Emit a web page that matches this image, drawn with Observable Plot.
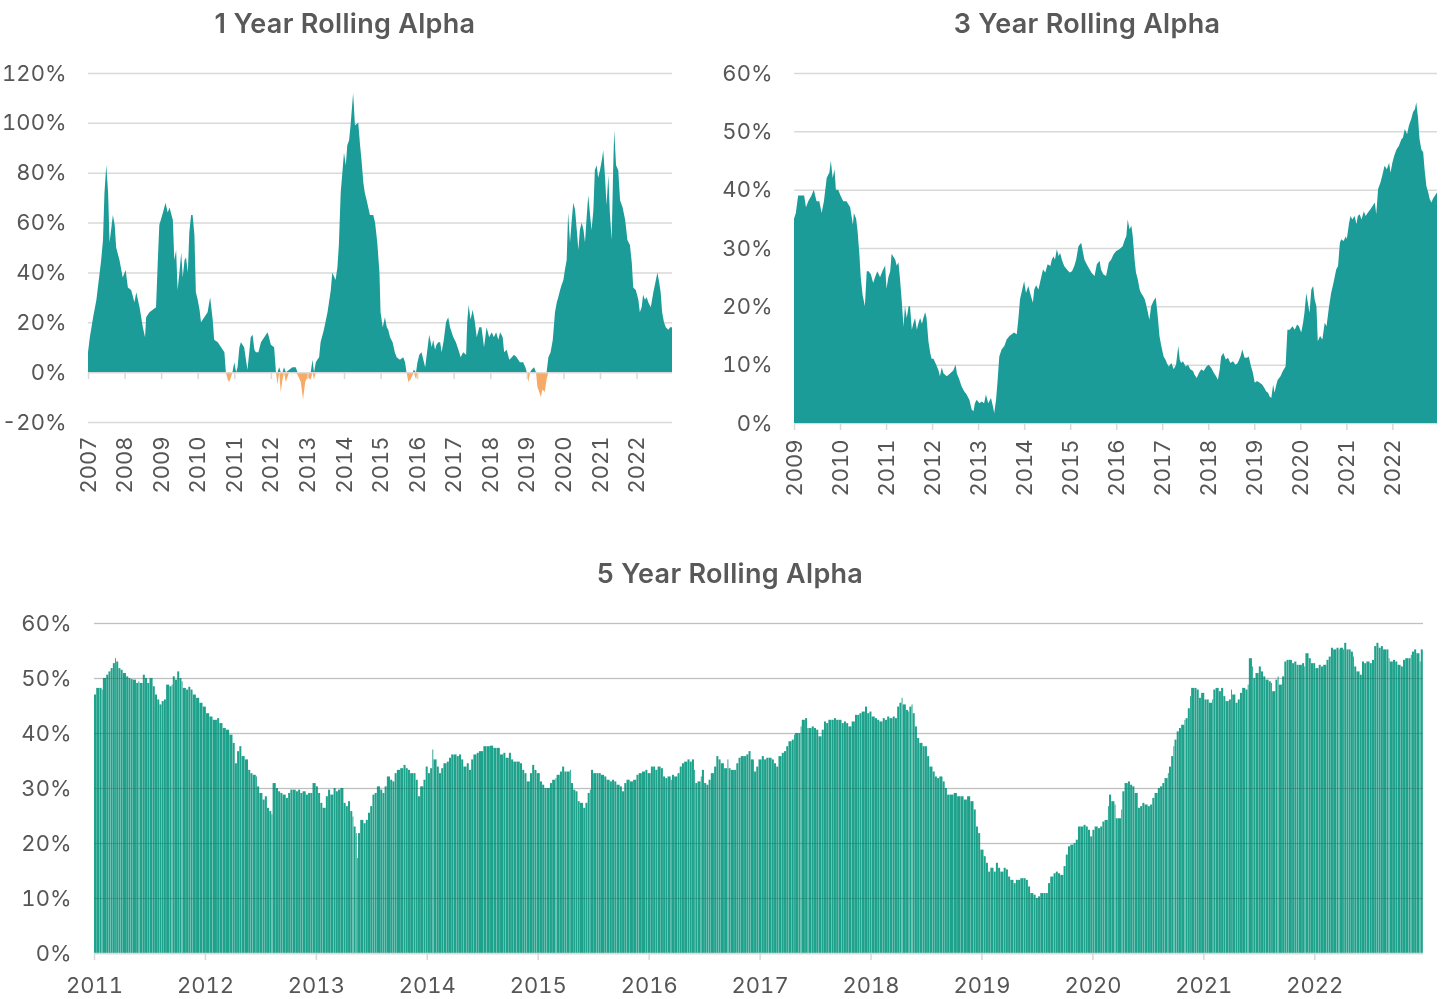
<!DOCTYPE html>
<html>
<head>
<meta charset="utf-8">
<script src="https://cdn.jsdelivr.net/npm/d3@7"></script>
<script src="https://cdn.jsdelivr.net/npm/@observablehq/plot@0.6"></script>
<style>
  html, body { margin: 0; padding: 0; background: #fff; }
  #root { position: relative; width: 1442px; height: 999px; overflow: hidden; font-family: Inter, "Noto Sans", sans-serif; }
  .title { position: absolute; width: 500px; text-align: center; font-family: Inter, sans-serif; font-weight: 600; font-size: 27px; line-height: 27px; letter-spacing: 0.3px; color: #595959; white-space: nowrap; }
  .chart { position: absolute; }
</style>
</head>
<body>
<div id="root">
  <div class="title" style="left:95px; top:10px;">1 Year Rolling Alpha</div>
  <div class="title" style="left:837px; top:10px;">3 Year Rolling Alpha</div>
  <div class="title" style="left:480px; top:560px;">5 Year Rolling Alpha</div>
  <div class="chart" id="c1" style="left:0px; top:50px;"></div>
  <div class="chart" id="c3" style="left:720px; top:50px;"></div>
  <div class="chart" id="c5" style="left:0px; top:590px;"></div>
</div>
<script>
// ---- data: [decimal year, alpha %] ----
const alpha1Y = [
[2007.00,8],[2007.05,14],[2007.14,22],[2007.23,29],[2007.27,34],[2007.32,40],[2007.36,45],[2007.41,53],[2007.45,72],[2007.50,83],[2007.55,72],[2007.59,52],[2007.68,63],[2007.73,59],[2007.77,50],[2007.86,45],[2007.95,38],
[2008.03,41],[2008.09,34],[2008.18,33],[2008.27,28],[2008.32,32],[2008.41,26],[2008.50,18],[2008.56,14],[2008.59,22],[2008.68,24],[2008.77,25],[2008.86,26],[2008.91,45],[2008.95,59],
[2009.05,64],[2009.12,68],[2009.18,64],[2009.23,66],[2009.32,61],[2009.36,45],[2009.41,49],[2009.45,33],[2009.50,40],[2009.55,48],[2009.59,38],[2009.64,45],[2009.68,46],[2009.73,40],[2009.77,56],[2009.82,63],[2009.86,63],[2009.91,55],[2009.95,32],
[2010.00,29],[2010.05,25],[2010.09,20],[2010.18,22],[2010.27,24],[2010.34,30],[2010.41,21],[2010.45,13],[2010.55,12],[2010.64,10],[2010.73,8],[2010.77,0],[2010.82,-3],[2010.86,-4],[2010.91,-2],[2010.95,0],
[2011.00,4],[2011.05,0],[2011.09,2],[2011.14,10],[2011.18,12],[2011.27,10],[2011.32,5],[2011.36,1],[2011.41,8],[2011.45,14],[2011.50,15],[2011.55,9],[2011.59,8],[2011.66,8],[2011.73,12],[2011.82,14],[2011.91,16],[2011.95,14],
[2012.00,11],[2012.09,10],[2012.14,0],[2012.18,-5],[2012.23,2],[2012.27,-8],[2012.32,-3],[2012.36,2],[2012.41,-4],[2012.50,1],[2012.59,2],[2012.68,2],[2012.73,-1],[2012.82,-4],[2012.88,-11],[2012.94,-4],
[2013.00,-2],[2013.09,-3],[2013.14,5],[2013.18,-3],[2013.23,4],[2013.27,5],[2013.32,6],[2013.36,12],[2013.45,17],[2013.55,24],[2013.64,33],[2013.68,40],[2013.77,37],[2013.82,42],[2013.86,51],[2013.91,72],[2013.95,79],
[2014.00,88],[2014.05,83],[2014.09,91],[2014.14,93],[2014.18,99],[2014.25,112],[2014.30,99],[2014.39,100],[2014.44,91],[2014.48,85],[2014.53,76],[2014.57,72],[2014.62,69],[2014.71,63],[2014.80,63],[2014.85,60],[2014.91,52],[2014.97,40],
[2015.00,24],[2015.06,18],[2015.12,22],[2015.17,18],[2015.21,17],[2015.26,14],[2015.33,12],[2015.39,8],[2015.44,6],[2015.53,5],[2015.62,6],[2015.67,4],[2015.71,0],[2015.76,-4],[2015.82,-3],[2015.88,-1],[2015.91,1],[2015.97,-3],
[2016.01,4],[2016.06,7],[2016.12,8],[2016.17,5],[2016.22,2],[2016.28,9],[2016.33,15],[2016.40,10],[2016.44,13],[2016.49,9],[2016.53,11],[2016.58,12],[2016.63,12],[2016.67,8],[2016.73,13],[2016.79,20],[2016.85,22],[2016.90,18],[2016.99,14],
[2017.06,12],[2017.13,9],[2017.19,6],[2017.26,8],[2017.34,7],[2017.37,20],[2017.41,27],[2017.46,21],[2017.52,25],[2017.58,20],[2017.63,14],[2017.70,18],[2017.76,18],[2017.83,10],[2017.90,18],[2017.97,14],
[2018.04,16],[2018.10,14],[2018.16,16],[2018.22,13],[2018.27,16],[2018.34,14],[2018.38,8],[2018.45,9],[2018.52,5],[2018.59,6],[2018.65,7],[2018.72,6],[2018.81,4],[2018.90,4],[2018.96,2],
[2019.00,0],[2019.04,-4],[2019.09,0],[2019.13,1],[2019.20,2],[2019.25,0],[2019.29,-6],[2019.34,-8],[2019.38,-10],[2019.43,-7],[2019.49,-8],[2019.54,-3],[2019.59,6],[2019.65,8],[2019.71,13],[2019.77,24],[2019.82,28],[2019.86,30],[2019.91,33],[2019.95,35],
[2020.00,37],[2020.04,41],[2020.09,45],[2020.13,64],[2020.18,52],[2020.23,61],[2020.27,68],[2020.32,65],[2020.36,58],[2020.41,49],[2020.45,57],[2020.50,60],[2020.55,57],[2020.59,52],[2020.64,63],[2020.68,71],[2020.73,63],[2020.77,57],[2020.82,65],[2020.86,81],[2020.91,83],[2020.95,78],
[2021.00,81],[2021.05,85],[2021.09,89],[2021.14,78],[2021.18,67],[2021.23,79],[2021.27,64],[2021.32,53],[2021.36,81],[2021.39,97],[2021.44,83],[2021.50,81],[2021.55,69],[2021.62,66],[2021.69,61],[2021.75,53],[2021.82,51],[2021.87,44],[2021.91,34],[2021.98,33],
[2022.05,29],[2022.09,24],[2022.14,26],[2022.18,31],[2022.23,29],[2022.28,30],[2022.32,28],[2022.39,26],[2022.46,32],[2022.53,37],[2022.57,40],[2022.62,36],[2022.66,32],[2022.70,24],[2022.75,20],[2022.80,18],[2022.87,17],[2022.92,18],[2022.97,18]
];

const alpha3Y = [
[2009.00,35],[2009.04,36],[2009.09,39],[2009.17,39],[2009.22,39],[2009.26,37],[2009.31,38],[2009.38,39],[2009.43,40],[2009.49,38],[2009.55,38],[2009.60,36],[2009.65,38],[2009.71,42],[2009.77,43],[2009.80,45],[2009.84,42],[2009.88,43.5],[2009.91,40],[2009.96,40],
[2010.01,39],[2010.07,38],[2010.14,38],[2010.22,37],[2010.28,34],[2010.30,36],[2010.35,35],[2010.38,33],[2010.42,29],[2010.45,25],[2010.49,22],[2010.54,20],[2010.58,26],[2010.62,26],[2010.67,25.5],[2010.72,24],[2010.76,25],[2010.81,26],[2010.87,25],[2010.92,26],[2010.98,27],
[2011.01,23],[2011.05,25],[2011.09,26],[2011.12,29],[2011.16,28.5],[2011.20,28],[2011.23,27],[2011.27,27.5],[2011.30,25],[2011.34,21],[2011.38,16.5],[2011.41,20],[2011.45,18],[2011.49,20],[2011.52,20],[2011.56,16],[2011.59,17],[2011.63,18],[2011.67,16],[2011.70,17],[2011.74,18],[2011.78,17],[2011.81,18],[2011.85,19],[2011.88,18],[2011.92,14],[2011.96,12],[2011.99,11],
[2012.03,11],[2012.09,10],[2012.14,9],[2012.17,8],[2012.21,9.5],[2012.25,8.5],[2012.32,8],[2012.39,8.5],[2012.46,9],[2012.51,10],[2012.54,8.5],[2012.59,7.5],[2012.64,6.3],[2012.70,5.4],[2012.75,4.9],[2012.81,4],[2012.86,2.3],[2012.90,2],[2012.93,3.4],[2012.97,4],
[2013.03,3.4],[2013.08,3.7],[2013.13,3.4],[2013.17,4.9],[2013.22,3.4],[2013.28,4.3],[2013.32,2.9],[2013.35,1.7],[2013.39,4],[2013.42,6.9],[2013.46,11.4],[2013.51,12.6],[2013.57,13.2],[2013.62,14.3],[2013.68,14.9],[2013.73,15.2],[2013.78,15.5],[2013.84,15.2],[2013.88,18.3],[2013.91,21.2],[2013.95,22.6],
[2014.00,24.3],[2014.04,22.3],[2014.09,23.5],[2014.14,22],[2014.19,20.6],[2014.22,22.9],[2014.26,23.6],[2014.31,22.9],[2014.36,24.6],[2014.41,26.3],[2014.46,25.8],[2014.51,27.2],[2014.57,26.9],[2014.60,28],[2014.64,28.6],[2014.67,28],[2014.71,29.8],[2014.75,28.6],[2014.78,29.2],[2014.82,28],[2014.87,26.9],[2014.93,26.3],[2014.99,25.8],
[2015.04,26],[2015.09,26.9],[2015.13,28],[2015.18,30.3],[2015.24,30.9],[2015.28,29.2],[2015.31,28],[2015.38,26.9],[2015.46,25.8],[2015.53,25.2],[2015.58,27.2],[2015.64,27.8],[2015.67,26.3],[2015.72,25.5],[2015.78,25.2],[2015.84,27.5],[2015.89,28],[2015.94,28.9],
[2016.00,29.5],[2016.07,29.8],[2016.14,30.3],[2016.19,31.5],[2016.22,32],[2016.25,34.9],[2016.29,33.2],[2016.33,33.8],[2016.36,32],[2016.40,28],[2016.43,25.8],[2016.47,24.6],[2016.51,22.9],[2016.54,22.3],[2016.58,21.8],[2016.62,21.2],[2016.65,20.3],[2016.69,18.9],[2016.72,17.7],[2016.76,20],[2016.81,20.9],[2016.86,21.5],[2016.88,20],[2016.91,17.7],[2016.94,14.9],[2016.98,13.2],
[2017.03,11.4],[2017.07,10.9],[2017.10,10.3],[2017.14,9.7],[2017.20,10.3],[2017.25,9.2],[2017.30,10],[2017.35,13.2],[2017.38,10.9],[2017.41,10.3],[2017.45,10.6],[2017.51,9.7],[2017.56,10],[2017.61,9.2],[2017.67,8.9],[2017.70,8.3],[2017.75,7.7],[2017.80,8.6],[2017.85,9.2],[2017.90,8.9],[2017.96,9.7],
[2018.01,10],[2018.07,9.4],[2018.12,8.6],[2018.17,8],[2018.21,7.4],[2018.25,9.2],[2018.28,11.4],[2018.33,12],[2018.38,10.9],[2018.43,11.2],[2018.48,10.3],[2018.54,10.6],[2018.59,10],[2018.64,10.3],[2018.70,11.4],[2018.74,12.6],[2018.79,11.2],[2018.84,11.2],[2018.88,11.4],[2018.93,9.7],[2018.97,8.6],
[2019.01,6.9],[2019.06,7.2],[2019.12,6.9],[2019.17,6.6],[2019.22,6],[2019.26,5.4],[2019.30,5.2],[2019.33,4.6],[2019.37,4.3],[2019.41,6.6],[2019.44,5.2],[2019.48,6.6],[2019.51,7.4],[2019.57,8],[2019.62,8.9],[2019.68,9.7],[2019.72,16],[2019.77,16],[2019.83,16.6],[2019.88,16],[2019.93,16.9],[2019.97,16.6],
[2020.02,15.5],[2020.06,17.2],[2020.09,18.9],[2020.13,22.3],[2020.17,20.3],[2020.20,18.9],[2020.24,22.9],[2020.28,23.5],[2020.31,21.2],[2020.35,20],[2020.38,14],[2020.43,14.9],[2020.48,14.3],[2020.53,17.2],[2020.57,16.6],[2020.62,19.7],[2020.67,22.3],[2020.72,24],[2020.78,26.3],[2020.82,26.9],[2020.86,30.9],[2020.89,31.5],[2020.94,31.2],[2020.99,32],
[2021.01,31.5],[2021.06,34.3],[2021.09,35.5],[2021.13,34.9],[2021.18,35.5],[2021.22,34.1],[2021.25,35.5],[2021.29,35.8],[2021.33,34.9],[2021.38,36.3],[2021.42,35.5],[2021.47,36.1],[2021.52,36.6],[2021.57,37.2],[2021.62,37.8],[2021.65,35.8],[2021.69,40.1],[2021.74,41.2],[2021.78,42.4],[2021.83,44.1],[2021.88,43.5],[2021.93,44.6],[2021.96,42.9],
[2022.00,44.6],[2022.04,45.8],[2022.09,46.9],[2022.14,47.5],[2022.20,48.7],[2022.23,48.9],[2022.27,50.4],[2022.32,49.5],[2022.36,51],[2022.41,52.1],[2022.45,53.3],[2022.49,53.8],[2022.52,55],[2022.56,52.1],[2022.59,48.7],[2022.63,46.9],[2022.67,46.4],[2022.70,43.5],[2022.74,40.6],[2022.78,39.5],[2022.81,38.4],[2022.85,37.8],[2022.88,38.4],[2022.92,38.9],[2022.97,39.5]
];

const alpha5Y = [
[2011.00,47],[2011.02,48.2],[2011.05,48.2],[2011.07,47.9],[2011.08,50],[2011.11,50.6],[2011.13,51.2],[2011.15,51.8],[2011.17,52.7],[2011.19,53.6],[2011.20,53],[2011.22,51.8],[2011.24,51.5],[2011.26,50.9],[2011.29,50.3],[2011.31,50],[2011.33,49.8],[2011.35,49.7],[2011.38,49.1],[2011.40,49.4],[2011.41,49.1],[2011.44,50.6],[2011.46,50],[2011.48,49.1],[2011.50,50],[2011.53,48.5],[2011.55,47],[2011.57,46.1],[2011.59,45.2],[2011.61,45.8],[2011.63,46.1],[2011.65,48.8],[2011.68,48.5],[2011.70,48.8],[2011.71,50.3],[2011.73,49.7],[2011.75,51.2],[2011.77,50],[2011.79,49.4],[2011.80,48.2],[2011.83,47.9],[2011.85,48.4],[2011.87,47.9],[2011.89,47],[2011.92,46.4],[2011.95,45.5],[2011.98,44.8],
[2012.01,43.6],[2012.04,43],[2012.07,42.4],[2012.11,42.7],[2012.13,41.8],[2012.16,40.9],[2012.19,40.6],[2012.22,39.7],[2012.25,38.2],[2012.27,34.5],[2012.29,36.7],[2012.31,37.6],[2012.33,35.8],[2012.36,35.2],[2012.39,33.3],[2012.41,32.7],[2012.43,32.4],[2012.46,32.1],[2012.47,30.3],[2012.49,29.1],[2012.52,27.9],[2012.54,28.5],[2012.56,26.4],[2012.58,25.8],[2012.60,25.2],[2012.61,30.9],[2012.64,30],[2012.66,29.4],[2012.68,29.1],[2012.70,28.8],[2012.73,28.2],[2012.75,29.1],[2012.77,29.7],[2012.79,29.7],[2012.82,29.4],[2012.84,29.7],[2012.86,29.1],[2012.88,29.4],[2012.91,28.8],[2012.93,29.1],[2012.95,29.1],[2012.97,30.9],
[2013.00,30.3],[2013.02,29.1],[2013.04,27.3],[2013.06,26.4],[2013.09,28.5],[2013.11,29.7],[2013.13,28.8],[2013.16,30],[2013.18,29.4],[2013.20,29.7],[2013.22,30],[2013.25,27.3],[2013.27,26.7],[2013.29,27.6],[2013.31,25.8],[2013.33,24.8],[2013.34,23],[2013.36,21.8],[2013.37,17.3],[2013.38,21.8],[2013.40,24.2],[2013.43,23.6],[2013.45,24.2],[2013.47,25.5],[2013.49,26.7],[2013.51,28.8],[2013.53,29.1],[2013.55,30.3],[2013.58,29.7],[2013.60,29.1],[2013.62,30.3],[2013.64,32.1],[2013.67,31.5],[2013.69,31.2],[2013.71,32.7],[2013.73,33.3],[2013.76,33.6],[2013.79,34.2],[2013.81,33.6],[2013.83,33.3],[2013.85,32.7],[2013.88,32.7],[2013.90,31.5],[2013.92,28.5],[2013.94,30.3],[2013.97,31.5],[2013.99,33.9],
[2014.01,32.7],[2014.03,33.6],[2014.05,37],[2014.06,35.2],[2014.09,33.9],[2014.11,32.7],[2014.13,33.6],[2014.15,34.5],[2014.18,34.8],[2014.20,35.5],[2014.22,36.1],[2014.24,36.1],[2014.27,35.8],[2014.29,36.1],[2014.31,35.2],[2014.33,33.9],[2014.36,34.5],[2014.38,33.3],[2014.40,35.2],[2014.42,36.1],[2014.45,36.4],[2014.47,36.7],[2014.51,37.6],[2014.54,37.6],[2014.57,37.7],[2014.60,37.3],[2014.63,37.3],[2014.66,36.1],[2014.69,36.4],[2014.71,35.5],[2014.74,36.4],[2014.76,35.2],[2014.78,34.8],[2014.81,34.8],[2014.84,34.5],[2014.86,33.3],[2014.88,32.7],[2014.90,31.2],[2014.93,32.7],[2014.95,34.2],[2014.97,33.3],[2014.99,32.7],
[2015.02,31.2],[2015.04,30.6],[2015.06,30],[2015.08,30],[2015.11,30.9],[2015.13,31.5],[2015.16,31.8],[2015.17,32.4],[2015.20,33],[2015.22,33.9],[2015.24,33],[2015.26,33],[2015.29,33.3],[2015.30,30.9],[2015.32,29.7],[2015.34,29.4],[2015.36,27.6],[2015.38,27.3],[2015.41,26.4],[2015.43,27.3],[2015.45,29.1],[2015.47,29.7],[2015.48,33.3],[2015.50,32.7],[2015.53,32.7],[2015.55,32.7],[2015.57,32.4],[2015.60,32.1],[2015.62,31.5],[2015.65,31.2],[2015.67,31.5],[2015.69,31.2],[2015.71,30.6],[2015.74,30.3],[2015.76,29.4],[2015.78,30.9],[2015.80,31.5],[2015.83,31.2],[2015.86,31.5],[2015.89,32.4],[2015.91,32.7],[2015.94,33],[2015.97,33.3],[2015.99,32.7],
[2016.02,33.9],[2016.04,33.9],[2016.06,33.3],[2016.08,33.9],[2016.11,33.6],[2016.13,32.1],[2016.15,31.8],[2016.17,32.1],[2016.20,31.5],[2016.21,32.4],[2016.23,32.1],[2016.26,32.7],[2016.28,33.9],[2016.30,34.5],[2016.32,34.8],[2016.35,35.2],[2016.37,34.8],[2016.39,35.2],[2016.41,33.3],[2016.42,30.9],[2016.44,31.2],[2016.47,32.1],[2016.48,33.3],[2016.50,30.9],[2016.52,30.6],[2016.54,31.5],[2016.56,32.7],[2016.59,33.9],[2016.61,35.8],[2016.63,35.2],[2016.65,34.5],[2016.68,33.6],[2016.71,35.2],[2016.72,33.6],[2016.74,33.3],[2016.77,33.3],[2016.79,34.5],[2016.81,35.5],[2016.83,35.8],[2016.86,35.8],[2016.88,36.1],[2016.90,36.7],[2016.92,35.2],[2016.95,33],[2016.97,33.9],[2016.99,35.2],
[2017.02,35.8],[2017.04,35.2],[2017.06,35.5],[2017.08,35.5],[2017.11,35.2],[2017.13,34.5],[2017.15,33.9],[2017.17,35.8],[2017.20,36.4],[2017.22,36.7],[2017.24,37.6],[2017.26,38.5],[2017.29,38.8],[2017.31,39.7],[2017.32,40],[2017.35,40],[2017.37,41.2],[2017.38,42.4],[2017.41,42.7],[2017.43,40.9],[2017.44,40.9],[2017.47,41.2],[2017.49,40.9],[2017.51,40.6],[2017.53,39.4],[2017.56,40.6],[2017.58,42.1],[2017.60,41.8],[2017.62,42.4],[2017.65,42.4],[2017.67,42.7],[2017.69,42.4],[2017.71,42.4],[2017.74,41.8],[2017.76,42.1],[2017.78,41.8],[2017.80,41.2],[2017.83,42.1],[2017.86,43.3],[2017.88,43.3],[2017.90,43.6],[2017.92,43.9],[2017.95,44.8],[2017.97,43.6],[2017.99,43.9],
[2018.01,43],[2018.04,42.7],[2018.06,42.4],[2018.08,42.1],[2018.11,42.7],[2018.13,42.4],[2018.15,43],[2018.17,42.7],[2018.20,43],[2018.22,42.7],[2018.24,44.8],[2018.26,45.5],[2018.28,46.4],[2018.29,45.2],[2018.32,44.2],[2018.34,43.9],[2018.35,44.8],[2018.37,45.2],[2018.38,43.6],[2018.40,41.2],[2018.42,39.1],[2018.44,38.2],[2018.47,37.6],[2018.49,37.6],[2018.51,35.8],[2018.53,33.9],[2018.56,33],[2018.58,32.1],[2018.60,31.8],[2018.62,32.1],[2018.65,31.2],[2018.67,30],[2018.69,28.8],[2018.71,28.8],[2018.75,29.1],[2018.78,28.5],[2018.81,28.5],[2018.84,27.9],[2018.87,28.5],[2018.90,27.6],[2018.93,26.1],[2018.95,23],[2018.97,21.8],[2018.99,18.8],
[2019.02,17.6],[2019.04,16.4],[2019.06,14.8],[2019.08,15.5],[2019.11,14.8],[2019.13,16.4],[2019.15,15.5],[2019.17,14.8],[2019.20,15.5],[2019.22,15.2],[2019.24,13.9],[2019.26,13.3],[2019.29,12.7],[2019.31,13.3],[2019.33,13.3],[2019.35,13.6],[2019.38,13.6],[2019.40,13.3],[2019.42,12.1],[2019.44,10.9],[2019.47,10.6],[2019.49,10],[2019.51,10.3],[2019.53,10.9],[2019.56,10.9],[2019.58,10.9],[2019.60,12.7],[2019.62,13.9],[2019.65,14.5],[2019.67,14.8],[2019.69,14.5],[2019.71,14.2],[2019.74,15.8],[2019.76,17.9],[2019.78,19.4],[2019.80,19.7],[2019.83,20],[2019.85,20.6],[2019.87,23],[2019.89,23],[2019.92,23.3],[2019.94,23],[2019.96,22.4],[2019.98,21.2],
[2020.00,22.4],[2020.02,23],[2020.05,22.7],[2020.07,23],[2020.09,23.9],[2020.11,24.2],[2020.14,26.7],[2020.15,28.8],[2020.17,27.6],[2020.20,27],[2020.21,24.5],[2020.23,24.5],[2020.26,26.1],[2020.27,29.4],[2020.29,30.9],[2020.32,31.2],[2020.34,30.6],[2020.36,30.3],[2020.38,29.1],[2020.41,26.4],[2020.43,26.7],[2020.45,27.3],[2020.47,27],[2020.50,26.7],[2020.52,27],[2020.54,28.2],[2020.56,29.1],[2020.59,30],[2020.61,30.3],[2020.63,30.9],[2020.65,31.8],[2020.68,32.7],[2020.69,33.9],[2020.71,35.8],[2020.73,37.6],[2020.74,38.8],[2020.76,40.3],[2020.78,40.9],[2020.80,41.5],[2020.83,42.4],[2020.84,42.7],[2020.86,44.5],[2020.88,46.7],[2020.89,48.2],[2020.92,48.2],[2020.94,47.9],[2020.96,46.4],[2020.98,47.3],
[2021.01,46.1],[2021.03,46.1],[2021.05,45.5],[2021.08,46.1],[2021.09,47.9],[2021.11,48.2],[2021.14,47.6],[2021.16,48.2],[2021.18,46.7],[2021.20,45.8],[2021.23,46.1],[2021.25,47.9],[2021.26,47],[2021.29,45.5],[2021.31,46.1],[2021.33,47.3],[2021.35,48.2],[2021.38,47.9],[2021.40,48.8],[2021.41,53.6],[2021.44,52.1],[2021.45,50],[2021.47,50.9],[2021.50,52.1],[2021.52,51.2],[2021.54,50.3],[2021.56,49.7],[2021.59,49.4],[2021.61,49.1],[2021.62,47.6],[2021.65,49.7],[2021.67,50.3],[2021.68,48.8],[2021.71,50.3],[2021.73,53],[2021.75,53.3],[2021.77,53.3],[2021.80,52.7],[2021.82,53],[2021.84,52.4],[2021.86,52.4],[2021.89,52.7],[2021.91,52.1],[2021.92,54.5],[2021.95,53.6],[2021.97,52.7],[2021.99,52.7],
[2022.01,51.8],[2022.04,52.4],[2022.06,52.1],[2022.08,52.4],[2022.11,53.3],[2022.13,53.9],[2022.15,55.5],[2022.17,55.2],[2022.20,55.5],[2022.22,55.2],[2022.23,55.5],[2022.26,55.2],[2022.27,56.4],[2022.29,55.2],[2022.31,55.2],[2022.33,54.8],[2022.35,53.9],[2022.36,52.1],[2022.38,51.2],[2022.41,50.6],[2022.43,53],[2022.45,52.7],[2022.47,53],[2022.50,52.7],[2022.52,53.3],[2022.54,55.8],[2022.56,56.4],[2022.58,55.5],[2022.60,55.8],[2022.62,55.2],[2022.65,55.2],[2022.67,53.6],[2022.68,53],[2022.71,53.3],[2022.73,53],[2022.75,52.4],[2022.78,52.1],[2022.80,53.3],[2022.82,53.6],[2022.85,53.6],[2022.87,54.2],[2022.88,54.8],[2022.90,55.2],[2022.92,54.5],[2022.95,53],[2022.96,55.2],[2022.98,55.2]
];

// ---- tick labels ----
const years1Y = [2007,2008,2009,2010,2011,2012,2013,2014,2015,2016,2017,2018,2019,2020,2021,2022];
const years3Y = [2009,2010,2011,2012,2013,2014,2015,2016,2017,2018,2019,2020,2021,2022];
const years5Y = [2011,2012,2013,2014,2015,2016,2017,2018,2019,2020,2021,2022];
const yTicks1Y = [-20,0,20,40,60,80,100,120];
const yTicks3Y = [0,10,20,30,40,50,60];
const yTicks5Y = [0,10,20,30,40,50,60];

// ---- styling ----
const TEAL = "#1c9c98";
const ORANGE = "#f6aa66";
const GREEN = "#1fa28b";
const GRID = "#d9d9d9";
const TEXT = "#565656";
const FONT = "Inter, 'Noto Sans', sans-serif";
const pct = d => `${d}%`;
const yr = d => String(d);

const rows1 = alpha1Y.map(([year, v]) => ({year, v}));
const rows3 = alpha3Y.map(([year, v]) => ({year, v}));
const rows5 = alpha5Y.slice(0, -1).map(([year, v], i) => ({x1: year, x2: alpha5Y[i + 1][0], v}));

const baseStyle = {fontFamily: FONT, fontSize: "22px", color: TEXT, background: "transparent", overflow: "visible"};

// 1 Year
const p1 = Plot.plot({
  width: 690, height: 452,
  marginLeft: 88, marginRight: 18, marginTop: 23, marginBottom: 80,
  style: baseStyle,
  x: {domain: [2007, 2022.97], label: null},
  y: {domain: [-20, 120], label: null},
  marks: [
    Plot.ruleY(yTicks1Y.filter(d => d !== 0), {stroke: GRID, strokeWidth: 1.5}),
    Plot.areaY(rows1, {x: "year", y: d => Math.max(0, d.v), fill: TEAL}),
    Plot.areaY(rows1, {x: "year", y: d => Math.min(0, d.v), fill: ORANGE}),
    Plot.ruleY([0], {stroke: GRID, strokeWidth: 1.5}),
    Plot.ruleX(years1Y, {x: d => d, y1: 0, y2: -2.8, stroke: GRID, strokeWidth: 1.5}),
    Plot.axisY(yTicks1Y, {tickSize: 0, tickPadding: 22, tickFormat: pct, fontSize: 22}),
    Plot.axisX(years1Y, {tickSize: 0, tickPadding: 14, tickRotate: -90, tickFormat: yr, fontSize: 22})
  ]
});
document.getElementById("c1").append(p1);

// 3 Year
const p3 = Plot.plot({
  width: 722, height: 453,
  marginLeft: 74, marginRight: 5, marginTop: 23, marginBottom: 80,
  style: baseStyle,
  x: {domain: [2009, 2022.97], label: null},
  y: {domain: [0, 60], label: null},
  marks: [
    Plot.ruleY(yTicks3Y, {stroke: GRID, strokeWidth: 1.5}),
    Plot.areaY(rows3, {x: "year", y: "v", fill: TEAL}),
    Plot.axisY(yTicks3Y, {tickSize: 0, tickPadding: 22, tickFormat: pct, fontSize: 22}),
    Plot.axisX(years3Y, {tickSize: 7, stroke: GRID, strokeWidth: 1.5, tickPadding: 9, tickRotate: -90, tickFormat: yr, fontSize: 22, color: TEXT})
  ]
});
document.getElementById("c3").append(p3);

// 5 Year
const p5 = Plot.plot({
  width: 1442, height: 408,
  marginLeft: 94, marginRight: 19, marginTop: 33, marginBottom: 45,
  style: baseStyle,
  x: {domain: [2011, 2022.98], label: null},
  y: {domain: [0, 60], label: null},
  marks: [
    Plot.ruleY(yTicks5Y, {stroke: GRID, strokeWidth: 1.5}),
    Plot.rectY(rows5, {x1: "x1", x2: "x2", y: "v", fill: GREEN, insetRight: 0.2}),
    Plot.ruleY(yTicks5Y.filter(d => d > 0), {stroke: "#cfcfcf", strokeWidth: 1.2, mixBlendMode: "multiply", strokeOpacity: 0.6}),
    Plot.ruleY([0], {stroke: GRID, strokeWidth: 1.5}),
    Plot.axisY(yTicks5Y, {tickSize: 0, tickPadding: 23, tickFormat: pct, fontSize: 22}),
    Plot.axisX(years5Y, {tickSize: 7, stroke: GRID, strokeWidth: 1.5, tickPadding: 17, tickFormat: yr, fontSize: 22, color: TEXT})
  ]
});
document.getElementById("c5").append(p5);
</script>
</body>
</html>
